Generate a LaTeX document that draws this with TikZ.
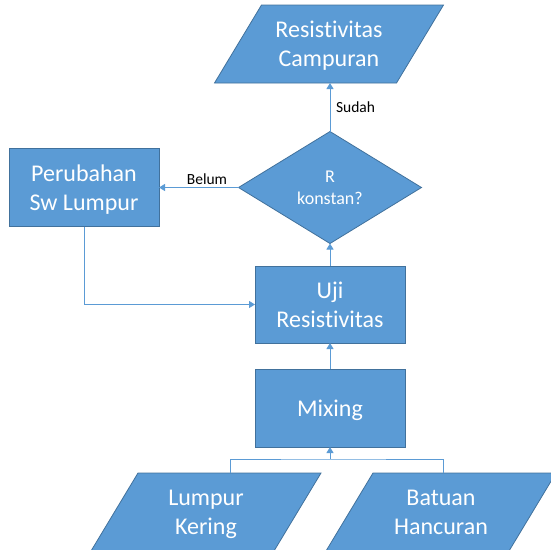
\documentclass[tikz,border=0pt]{standalone}
\usepackage{fontspec}
\setmainfont{Carlito}[Ligatures={NoCommon}]
\usetikzlibrary{shapes.geometric,arrows.meta,calc,backgrounds}
\definecolor{boxfill}{HTML}{5B9BD5}
\definecolor{boxedge}{HTML}{41719C}
\definecolor{linkblue}{HTML}{5B9BD5}
% slanted input/output shape drawn behind a named text node
\newcommand\ioshape[1]{%
  \begin{scope}[on background layer]
    \filldraw[fill=boxfill, draw=boxedge, line width=0.8pt]
      ($(#1.north west)+(23.5,0)$) -- ($(#1.north east)+(23.5,0)$) --
      ($(#1.south east)-(23.5,0)$) -- ($(#1.south west)-(23.5,0)$) -- cycle;
  \end{scope}}
\begin{document}
\begin{tikzpicture}[x=1pt,y=-1pt,
  every node/.style={inner sep=0pt, outer sep=0pt},
  stepbox/.style={rectangle, draw=boxedge, fill=boxfill, line width=0.8pt,
    minimum width=150pt, minimum height=78pt, text=white, align=center,
    text depth=0pt, font=\fontsize{24}{29}\selectfont},
  iobox/.style={rectangle, minimum width=182pt, minimum height=78pt,
    text=white, align=center, text depth=0pt,
    font=\fontsize{24}{29}\selectfont},
  decision/.style={diamond, draw=boxedge, fill=boxfill, line width=0.8pt,
    minimum width=183pt, minimum height=112pt, text=white, align=center,
    font=\fontsize{18}{22}\selectfont},
  link/.style={draw=linkblue, line width=0.9pt, -{Triangle[width=7pt,length=6pt]}},
  plainlink/.style={draw=linkblue, line width=0.9pt},
  tag/.style={font=\fontsize{15.5}{18}\selectfont, text=black}
]
\useasboundingbox (0,0) rectangle (550,550);
\clip (0,0) rectangle (550,550);

% nodes
\node[iobox] (top) at (329,44) {Resistivitas\\Campuran};
\ioshape{top}
\node[decision] (dec) at (330,187.5) {R\\konstan?};
\node[stepbox] (sw) at (84,187.5) {Perubahan\\Sw Lumpur};
\node[stepbox, minimum height=77pt] (uji) at (330,304.5) {Uji\\Resistivitas};
\node[stepbox] (mix) at (330,408) {Mixing};
\node[iobox, minimum width=183pt] (lk) at (206,512) {Lumpur\\Kering};
\ioshape{lk}
\node[iobox, minimum width=183pt] (bh) at (441,512) {Batuan\\Hancuran};
\ioshape{bh}

% connectors
\draw[link] (dec.north) -- (dec.north |- top.south);
\node[tag, anchor=west] (sudah) at (336,107) {Sudah};
\draw[link] (dec.west) -- (dec.west -| sw.east);
\node[tag] (belum) at (207,179) {Belum};
\draw[link] (sw.south) |- (uji.west);
\draw[link] (uji.north) -- (dec.south);
\draw[link] (mix.north) -- (uji.south);
\coordinate (lkin) at ($(lk.north)+(24,0)$);
\coordinate (bhin) at ($(bh.north)+(2,0)$);
\coordinate (mixin) at (330,459);
\draw[plainlink] (lkin) |- (mixin) -| (bhin);
\draw[link] (mixin) -- (mix.south);
\end{tikzpicture}
\end{document}
